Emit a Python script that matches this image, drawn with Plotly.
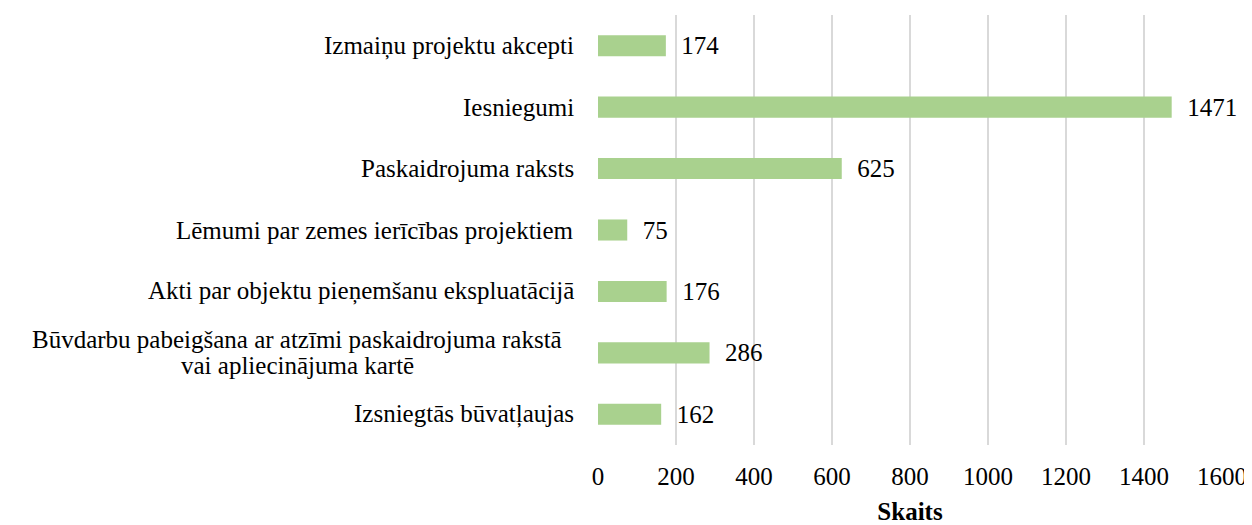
import plotly.graph_objects as go

categories = [
    "Izmaiņu projektu akcepti",
    "Iesniegumi",
    "Paskaidrojuma raksts",
    "Lēmumi par zemes ierīcības projektiem",
    "Akti par objektu pieņemšanu ekspluatācijā",
    "Būvdarbu pabeigšana ar atzīmi paskaidrojuma rakstā vai apliecinājuma kartē",
    "Izsniegtās būvatļaujas",
]
# display lines of each category label
label_lines = [
    ["Izmaiņu projektu akcepti"],
    ["Iesniegumi"],
    ["Paskaidrojuma raksts"],
    ["Lēmumi par zemes ierīcības projektiem"],
    ["Akti par objektu pieņemšanu ekspluatācijā"],
    ["Būvdarbu pabeigšana ar atzīmi paskaidrojuma rakstā", "vai apliecinājuma kartē"],
    ["Izsniegtās būvatļaujas"],
]
values = [174, 1471, 625, 75, 176, 286, 162]
x_ticks = [0, 200, 400, 600, 800, 1000, 1200, 1400, 1600]

FONT = "Liberation Serif"
FS = 25

fig = go.Figure()
fig.add_trace(go.Bar(
    y=categories,
    x=values,
    orientation="h",
    marker=dict(color="#a9d18e", line=dict(width=0)),
    text=["\u00a0\u00a0" + str(v) for v in values],
    textposition="outside",
    constraintext="none",
    textfont=dict(family=FONT, size=FS, color="#000000"),
    cliponaxis=False,
    hoverinfo="x+y",
))

for c, lines in zip(categories, label_lines):
    if len(lines) == 1:
        fig.add_annotation(
            x=0, xref="paper", xanchor="right", xshift=-22,
            y=c, yref="y", yanchor="middle",
            text=lines[0], showarrow=False,
            font=dict(family=FONT, size=FS, color="#000000"),
        )
    else:
        n = len(lines)
        for i, ln in enumerate(lines):
            fig.add_annotation(
                x=-0.482, xref="paper", xanchor="center",
                y=c, yref="y", yanchor="middle",
                yshift=(n - 1) / 2 * 26 - i * 26,
                text=ln, showarrow=False,
                font=dict(family=FONT, size=FS, color="#000000"),
            )

fig.update_layout(
    width=1244, height=517,
    margin=dict(l=590, r=30, t=7, b=80, autoexpand=False),
    plot_bgcolor="#ffffff",
    paper_bgcolor="#ffffff",
    bargap=0.657,
    showlegend=False,
    font=dict(family=FONT, size=FS, color="#000000"),
    xaxis=dict(
        range=[0, 1600],
        tickvals=x_ticks,
        ticktext=[str(t) for t in x_ticks],
        showgrid=True, gridcolor="#d9d9d9", gridwidth=2,
        zeroline=False, showline=False,
        ticks="", ticklabelstandoff=14,
        tickfont=dict(family=FONT, size=FS, color="#000000"),
        title=dict(text="<b>Skaits</b>", standoff=13,
                   font=dict(family=FONT, size=FS, color="#000000")),
        automargin=False,
        fixedrange=True,
    ),
    yaxis=dict(
        autorange="reversed",
        showticklabels=False,
        showgrid=False, zeroline=False, showline=False, ticks="",
        automargin=False,
        fixedrange=True,
    ),
)

fig.write_html("out.html")
